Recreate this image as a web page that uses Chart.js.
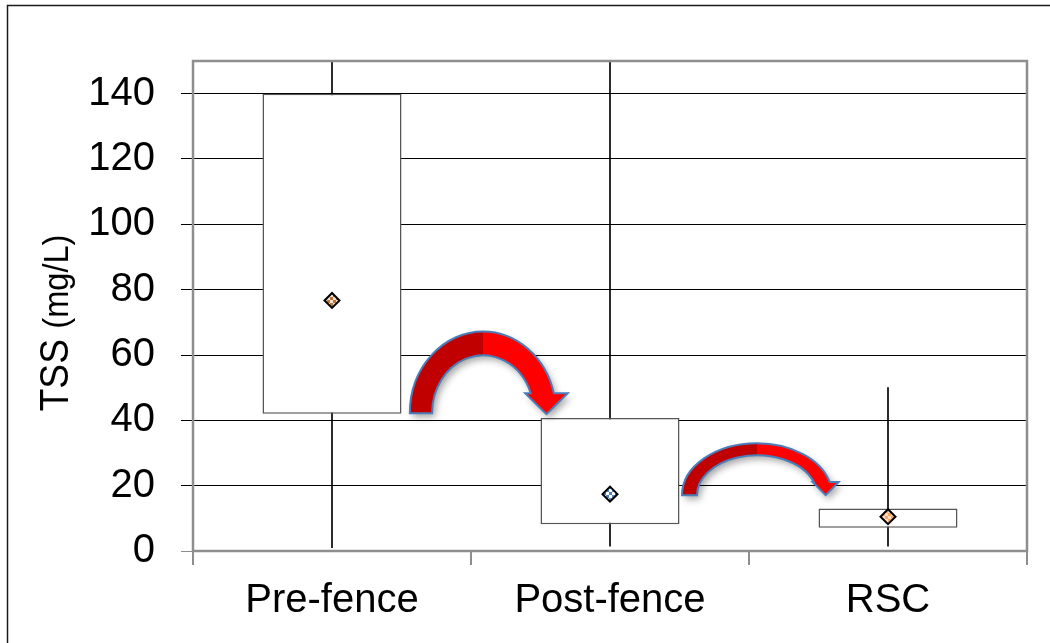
<!DOCTYPE html>
<html>
<head>
<meta charset="utf-8">
<script src="https://cdn.jsdelivr.net/npm/chart.js@4"></script>
<style>
	html, body { margin: 0; padding: 0; background: #fff; }
	#wrap { width: 1050px; height: 643px; }
</style>
</head>
<body>
<div id="wrap"><canvas id="chart" width="1050" height="643"></canvas></div>
<script>
	// ===== データ =====
	const categories = ['Pre-fence', 'Post-fence', 'RSC'];
	const boxLow = [42, 8.2, 7.1];
	const boxHigh = [140, 40.7, 13];
	const whiskerLow = [1, 1.5, 1.5];
	const whiskerHigh = [160, 160, 50];
	const meanValues = [76.7, 17.4, 10.5];
	const yTicks = [0, 20, 40, 60, 80, 100, 120, 140];
	const yMax = 150;

	const FONT = 'Liberation Sans, Arial, sans-serif';
	const AXIS_GRAY = '#8e8e8e';

	// 矢印（装飾）: x はカテゴリ単位、y は値の単位
	const arrows = [
		{ cx: 0.543, base: 42.2, rxOut: 0.263, rxIn: 0.183, ryOut: 25, ryIn: 17.7, end: 48.3, tip: 41.9, wingOut: 0.05, wingIn: 0.02 },
		{ cx: 1.529, base: 17.1, rxOut: 0.27, rxIn: 0.216, ryOut: 15.9, ryIn: 12.2, end: 21.1, tip: 17.1, wingOut: 0.032, wingIn: 0.004 }
	];

	// 平均マーカー用の市松模様
	function makeChecker(c1, c2, size) {
		const p = document.createElement('canvas');
		p.width = size * 2;
		p.height = size * 2;
		const g = p.getContext('2d');
		g.fillStyle = c1;
		g.fillRect(0, 0, size * 2, size * 2);
		g.fillStyle = c2;
		g.fillRect(0, 0, size, size);
		g.fillRect(size, size, size, size);
		return g.createPattern(p, 'repeat');
	}
	const ctx0 = document.getElementById('chart').getContext('2d');
	const meanFills = [
		makeChecker('#b8763f', '#f6e2cf', 3),
		makeChecker('#4f81bd', '#ffffff', 3),
		makeChecker('#f7a865', '#fddcc0', 3)
	];

	function drawArrow(ctx, a, xs, ys) {
		const cw = xs.getPixelForValue(1) - xs.getPixelForValue(0);
		const cx = xs.getPixelForValue(0) + a.cx * cw;
		const by = ys.getPixelForValue(a.base);
		const rxO = a.rxOut * cw, rxI = a.rxIn * cw;
		const ryO = by - ys.getPixelForValue(a.base + a.ryOut);
		const ryI = by - ys.getPixelForValue(a.base + a.ryIn);
		const ey = ys.getPixelForValue(a.end);
		const ty = ys.getPixelForValue(a.tip);
		const h = by - ey;
		const tO = Math.asin(h / ryO), tI = Math.asin(h / ryI);
		const xO = cx + rxO * Math.cos(tO);
		const xI = cx + rxI * Math.cos(tI);
		const wO = xO + a.wingOut * cw, wI = xI - a.wingIn * cw;

		ctx.save();
		ctx.beginPath();
		ctx.ellipse(cx, by, rxO, ryO, 0, Math.PI, 2 * Math.PI - tO);
		ctx.lineTo(wO, ey);
		ctx.lineTo((wO + wI) / 2, ty);
		ctx.lineTo(wI, ey);
		ctx.lineTo(xI, ey);
		ctx.ellipse(cx, by, rxI, ryI, 0, 2 * Math.PI - tI, Math.PI, true);
		ctx.closePath();

		const x0 = cx - rxO, x1 = wO;
		const grad = ctx.createLinearGradient(x0, 0, x1, 0);
		const f = (cx - x0) / (x1 - x0);
		grad.addColorStop(0, '#c00000');
		grad.addColorStop(f, '#c00000');
		grad.addColorStop(f, '#ff0000');
		grad.addColorStop(1, '#ff0000');
		ctx.fillStyle = grad;
		ctx.shadowColor = 'rgba(0,0,0,0.35)';
		ctx.shadowBlur = 7;
		ctx.shadowOffsetX = 3;
		ctx.shadowOffsetY = 4;
		ctx.fill();
		ctx.shadowColor = 'transparent';
		ctx.strokeStyle = '#4a7ebb';
		ctx.lineWidth = 2;
		ctx.stroke();
		ctx.restore();
	}

	const decorPlugin = {
		id: 'decor',
		beforeDraw(chart) {
			const ctx = chart.ctx;
			ctx.save();
			ctx.fillStyle = '#fff';
			ctx.fillRect(0, 0, chart.width, chart.height);
			// 外枠（上と左のみ見える）
			ctx.strokeStyle = '#1a1a1a';
			ctx.lineWidth = 1.5;
			ctx.beginPath();
			ctx.moveTo(7.5, chart.height);
			ctx.lineTo(7.5, 5.5);
			ctx.lineTo(chart.width, 5.5);
			ctx.stroke();
			ctx.restore();
		},
		afterDatasetsDraw(chart) {
			const ctx = chart.ctx;
			const a = chart.chartArea;
			// プロットエリアの枠
			ctx.save();
			ctx.strokeStyle = AXIS_GRAY;
			ctx.lineWidth = 2.5;
			ctx.strokeRect(a.left, a.top, a.right - a.left, a.bottom - a.top);
			ctx.restore();

			arrows.forEach(ar => drawArrow(ctx, ar, chart.scales.x, chart.scales.y));

			// 縦軸タイトル（TSS と (mg/L) でサイズが異なる）
			ctx.save();
			const big = '40px ' + FONT, small = '35px ' + FONT;
			const squeeze = 0.93;
			ctx.font = big;
			const w1 = ctx.measureText('TSS ').width;
			ctx.font = small;
			const w2 = ctx.measureText('(mg/L)').width;
			const midY = (a.top + a.bottom) / 2 + 17;
			ctx.translate(68, midY + (w1 + w2) * squeeze / 2);
			ctx.rotate(-Math.PI / 2);
			ctx.scale(squeeze, 1);
			ctx.fillStyle = '#000';
			ctx.textAlign = 'left';
			ctx.textBaseline = 'alphabetic';
			ctx.font = big;
			ctx.fillText('TSS ', 0, 0);
			ctx.font = small;
			ctx.fillText('(mg/L)', w1, 0);
			ctx.restore();
		}
	};

	new Chart(ctx0, {
		type: 'bar',
		data: {
			labels: categories,
			datasets: [
				{
					type: 'line',
					data: meanValues,
					showLine: false,
					pointStyle: 'rectRot',
					pointRadius: 7.5,
					pointBorderWidth: 2,
					pointBorderColor: '#000',
					pointBackgroundColor: meanFills,
					order: 1
				},
				{
					data: categories.map((c, i) => [boxLow[i], boxHigh[i]]),
					backgroundColor: '#fff',
					borderColor: '#555',
					borderWidth: 1.5,
					borderSkipped: false,
					barPercentage: 0.5,
					categoryPercentage: 1,
					grouped: false,
					order: 2
				},
				{
					data: categories.map((c, i) => [whiskerLow[i], whiskerHigh[i]]),
					backgroundColor: '#000',
					borderWidth: 0,
					barThickness: 1,
					grouped: false,
					order: 3
				}
			]
		},
		options: {
			responsive: false,
			animation: false,
			devicePixelRatio: 1,
			layout: { padding: { left: 0, right: 23, top: 61, bottom: 0 } },
			plugins: {
				legend: { display: false },
				tooltip: { enabled: false }
			},
			scales: {
				x: {
					offset: true,
					grid: {
						offset: true,
						drawOnChartArea: false,
						tickLength: 14,
						color: AXIS_GRAY,
						lineWidth: 2
					},
					border: { display: false },
					ticks: { font: { family: FONT, size: 40 }, color: '#000', padding: 12 },
					afterFit(s) { s.height = 92; }
				},
				y: {
					min: 0,
					max: yMax,
					afterBuildTicks(s) { s.ticks = yTicks.map(v => ({ value: v })); },
					grid: {
						color: c => (c.tick && c.tick.value === 0) ? AXIS_GRAY : '#000',
						lineWidth: 1,
						tickLength: 12
					},
					border: { display: false },
					ticks: { font: { family: FONT, size: 40 }, color: '#000', padding: 26 },
					afterFit(s) { s.width = 193; }
				}
			}
		},
		plugins: [decorPlugin]
	});
</script>
</body>
</html>
